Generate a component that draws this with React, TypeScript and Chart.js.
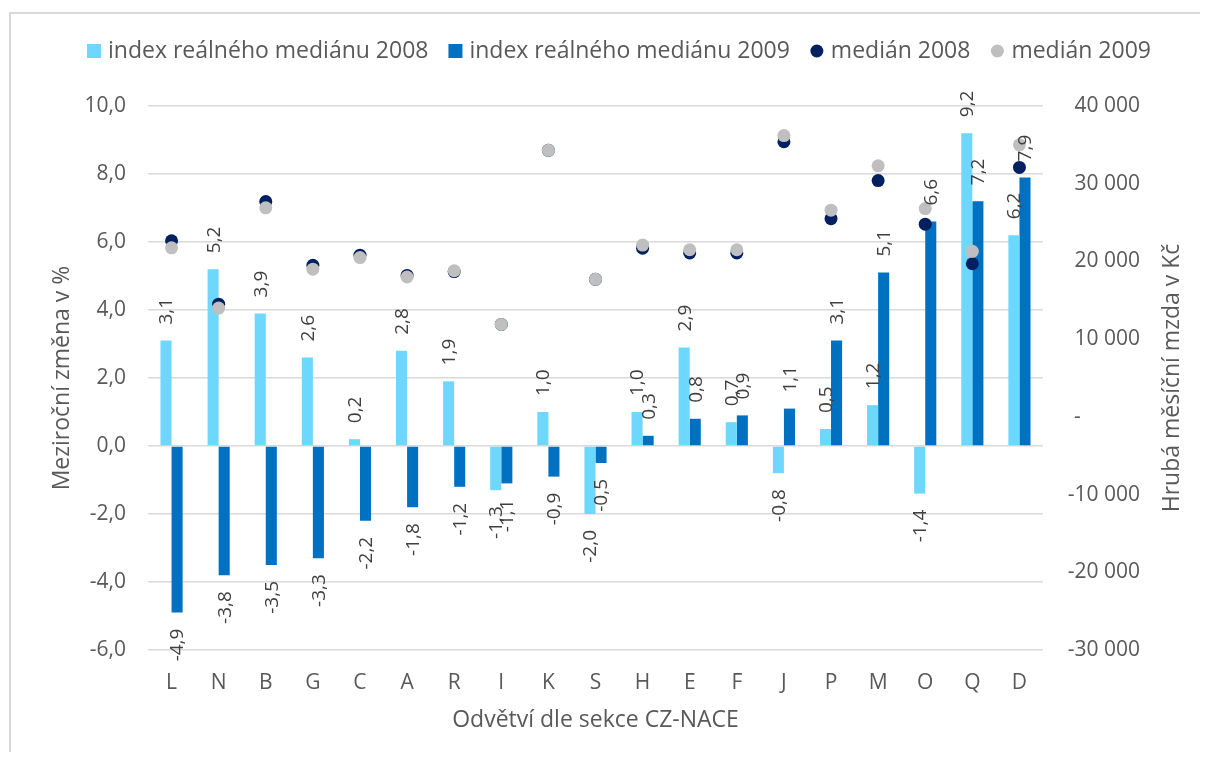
import React, { useEffect, useRef } from 'react';
import { Chart, registerables } from 'chart.js';

Chart.register(...registerables);

// ---- data ----
const categories = ['L', 'N', 'B', 'G', 'C', 'A', 'R', 'I', 'K', 'S', 'H', 'E', 'F', 'J', 'P', 'M', 'O', 'Q', 'D'];
const index2008 = [3.1, 5.2, 3.9, 2.6, 0.2, 2.8, 1.9, -1.3, 1.0, -2.0, 1.0, 2.9, 0.7, -0.8, 0.5, 1.2, -1.4, 9.2, 6.2];
const index2009 = [-4.9, -3.8, -3.5, -3.3, -2.2, -1.8, -1.2, -1.1, -0.9, -0.5, 0.3, 0.8, 0.9, 1.1, 3.1, 5.1, 6.6, 7.2, 7.9];
const median2008 = [22650, 14500, 27700, 19500, 20800, 18200, 18700, 11900, 34300, 17700, 21700, 21100, 21100, 35400, 25500, 30400, 24800, 19700, 32100];
const median2009 = [21750, 14000, 26900, 19000, 20500, 18000, 18800, 11900, 34300, 17700, 22100, 21500, 21500, 36200, 26600, 32300, 26800, 21300, 35000];
const seriesLabels = ['index reálného mediánu 2008', 'index reálného mediánu 2009', 'medián 2008', 'medián 2009'];
const leftAxisTitle = 'Meziroční změna v %';
const rightAxisTitle = 'Hrubá měsíční mzda v Kč';
const xAxisTitle = 'Odvětví dle sekce CZ-NACE';
const leftRange = [-6, 10, 2];
const rightRange = [-30000, 40000, 10000];

const C_LIGHT = '#6DD7FD';
const C_DARK = '#0070C0';
const C_NAVY = '#002060';
const C_GRAY = '#BFBFBF';
const FONT = "'Open Sans', sans-serif";
const TXT = '#595959';
const LBL = '#404040';

const W = 1200;
const H = 744;

const fmtPct = (v: number) => v.toFixed(1).replace('.', ',');
const fmtCZK = (v: number) => {
  if (v === 0) return '-';
  const s = Math.abs(v).toString().replace(/\B(?=(\d{3})+(?!\d))/g, ' ');
  return (v < 0 ? '-' : '') + s;
};

const decorPlugin = {
  id: 'decor',
  beforeDraw(chart: any) {
    const { ctx, width, height } = chart;
    ctx.save();
    ctx.fillStyle = '#ffffff';
    ctx.fillRect(0, 0, width, height);
    ctx.fillStyle = '#D9D9D9';
    ctx.fillRect(1, 4, 2, height - 4);
    ctx.fillRect(1, 4, width - 1, 2);
    ctx.restore();
  },
  afterDatasetsDraw(chart: any) {
    const { ctx } = chart;
    ctx.save();
    ctx.font = `19px ${FONT}`;
    ctx.fillStyle = LBL;
    ctx.textBaseline = 'middle';
    [0, 1].forEach((di) => {
      const meta = chart.getDatasetMeta(di);
      const data = chart.data.datasets[di].data as number[];
      meta.data.forEach((bar: any, i: number) => {
        const v = data[i];
        const txt = fmtPct(v);
        ctx.save();
        if (v >= 0) {
          ctx.translate(bar.x, bar.y - 16);
          ctx.rotate(-Math.PI / 2);
          ctx.textAlign = 'left';
        } else {
          ctx.translate(bar.x, bar.y + 16);
          ctx.rotate(-Math.PI / 2);
          ctx.textAlign = 'right';
        }
        ctx.fillText(txt, 0, 1);
        ctx.restore();
      });
    });
    ctx.restore();
  },
  afterDraw(chart: any) {
    const { ctx, chartArea } = chart;
    const midY = (chartArea.top + chartArea.bottom) / 2;
    ctx.save();
    // right axis tick labels
    const y1 = chart.scales.y1;
    ctx.font = `21px ${FONT}`;
    ctx.fillStyle = TXT;
    ctx.textBaseline = 'middle';
    y1.ticks.forEach((t: any) => {
      const py = y1.getPixelForValue(t.value);
      const s = fmtCZK(t.value);
      if (t.value === 0) {
        ctx.textAlign = 'left';
        ctx.fillText(s, 1066, py);
      } else {
        ctx.textAlign = 'right';
        ctx.fillText(s, 1132, py);
      }
    });
    // axis titles
    ctx.font = `23px ${FONT}`;
    ctx.fillStyle = TXT;
    ctx.textAlign = 'center';
    ctx.textBaseline = 'middle';
    ctx.save();
    ctx.translate(54, midY);
    ctx.rotate(-Math.PI / 2);
    ctx.fillText(leftAxisTitle, 0, 0);
    ctx.restore();
    ctx.save();
    ctx.translate(1164, midY);
    ctx.rotate(-Math.PI / 2);
    ctx.fillText(rightAxisTitle, 0, 0);
    ctx.restore();
    ctx.fillText(xAxisTitle, (chartArea.left + chartArea.right) / 2, 712);
    // legend
    ctx.font = `23px ${FONT}`;
    const colors = [C_LIGHT, C_DARK, C_NAVY, C_GRAY];
    const marker = 14, mgap = 7, igap = 20;
    const widths = seriesLabels.map((l) => ctx.measureText(l).width);
    const total = widths.reduce((a, w) => a + marker + mgap + w, 0) + igap * (seriesLabels.length - 1);
    let x = 611 - total / 2;
    const ly = 43;
    seriesLabels.forEach((l, i) => {
      ctx.fillStyle = colors[i];
      if (i < 2) {
        ctx.fillRect(x, ly - 7, marker, marker);
      } else {
        ctx.beginPath();
        ctx.arc(x + marker / 2, ly, 6.5, 0, Math.PI * 2);
        ctx.fill();
      }
      x += marker + mgap;
      ctx.fillStyle = TXT;
      ctx.textAlign = 'left';
      ctx.fillText(l, x, ly);
      x += widths[i] + igap;
    });
    ctx.restore();
  },
};

export default function App() {
  const ref = useRef<HTMLCanvasElement>(null);
  useEffect(() => {
    const canvas = ref.current!;
    const pointDs = (label: string, data: number[], color: string, order: number) => ({
      type: 'line' as const,
      label,
      data,
      yAxisID: 'y1',
      showLine: false,
      pointRadius: 6.5,
      pointHoverRadius: 6.5,
      pointBorderWidth: 0,
      pointBackgroundColor: color,
      borderColor: color,
      backgroundColor: color,
      order,
    });
    const chart = new Chart(canvas, {
      type: 'bar',
      data: {
        labels: categories,
        datasets: [
          { type: 'bar', label: seriesLabels[0], data: index2008, backgroundColor: C_LIGHT, yAxisID: 'y', order: 2, categoryPercentage: 0.47, barPercentage: 1 },
          { type: 'bar', label: seriesLabels[1], data: index2009, backgroundColor: C_DARK, yAxisID: 'y', order: 3, categoryPercentage: 0.47, barPercentage: 1 },
          pointDs(seriesLabels[2], median2008, C_NAVY, 1),
          pointDs(seriesLabels[3], median2009, C_GRAY, 0),
        ] as any,
      },
      options: {
        responsive: false,
        animation: false,
        layout: { padding: { top: 98, left: 0, right: 0, bottom: 0 } },
        plugins: { legend: { display: false }, tooltip: { enabled: false } },
        scales: {
          x: {
            grid: { display: false },
            border: { display: false },
            ticks: { font: { family: FONT, size: 21 }, color: TXT, padding: 12 },
            afterFit: (s: any) => { s.height = 102; },
          },
          y: {
            position: 'left',
            min: leftRange[0],
            max: leftRange[1],
            ticks: { stepSize: leftRange[2], callback: (v: any) => fmtPct(Number(v)), font: { family: FONT, size: 21 }, color: TXT, padding: 22 },
            grid: { color: '#D9D9D9', lineWidth: 1.5, drawTicks: false },
            border: { display: false },
            afterFit: (s: any) => { s.width = 140; },
          },
          y1: {
            position: 'right',
            min: rightRange[0],
            max: rightRange[1],
            ticks: { stepSize: rightRange[2], display: false },
            grid: { display: false },
            border: { display: false },
            afterFit: (s: any) => { s.width = W - 1035; },
          },
        },
      } as any,
      plugins: [decorPlugin],
    });
    return () => chart.destroy();
  }, []);
  return (
    <div style={{ width: W, height: H }}>
      <canvas ref={ref} width={W} height={H} style={{ display: 'block' }} />
    </div>
  );
}
